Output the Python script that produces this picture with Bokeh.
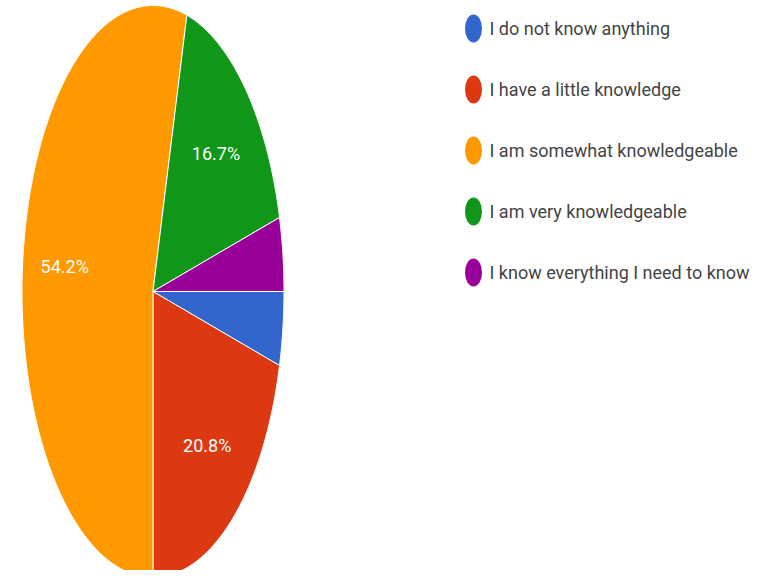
import numpy as np
from bokeh.plotting import figure
from bokeh.models import Range1d, ColumnDataSource
from bokeh.core.properties import value
from bokeh.embed import file_html
from bokeh.resources import INLINE

# ---- data ----
categories = [
    "I do not know anything",
    "I have a little knowledge",
    "I am somewhat knowledgeable",
    "I am very knowledgeable",
    "I know everything I need to know",
]
counts = [1, 5, 13, 4, 1]
colors = ["#3366cc", "#dc3912", "#ff9900", "#109618", "#990099"]

# ---- layout ----
W, H = 751, 570
cx, cy, rx, ry = 152.5, 291.0, 131.0, 286.0
label_r = 0.68
leg_x, leg_y0, leg_dy = 473.0, 28.0, 61.0
FONT = "Roboto"

counts_a = np.array(counts, dtype=float)
fracs = counts_a / counts_a.sum()
ends = np.cumsum(fracs) * 2 * np.pi
starts = ends - fracs * 2 * np.pi

xs, ys = [], []
for s, e, f in zip(starts, ends, fracs):
    th = np.linspace(s, e, max(int(f * 600), 12))
    xs.append([cx] + list(cx + rx * np.cos(th)))
    ys.append([cy] + list(cy + ry * np.sin(th)))

pie_src = ColumnDataSource(dict(xs=xs, ys=ys, color=colors))

mids = (starts + ends) / 2
pcts = fracs * 100
show = pcts >= 5
lab_src = ColumnDataSource(dict(
    x=list(cx + label_r * rx * np.cos(mids[show])),
    y=list(cy + label_r * ry * np.sin(mids[show])),
    text=[f"{v:.1f}%" for v in pcts[show]],
))

idx = np.arange(len(categories))
leg_src = ColumnDataSource(dict(
    x=[leg_x] * len(categories),
    tx=[leg_x + 16] * len(categories),
    y=list(leg_y0 + leg_dy * idx),
    color=colors,
    text=categories,
))

p = figure(width=W, height=H, output_backend="svg", toolbar_location=None,
           x_range=Range1d(0, W), y_range=Range1d(H, 0),
           min_border=0, x_axis_location=None, y_axis_location=None)
p.outline_line_color = None
p.xgrid.visible = False
p.ygrid.visible = False
p.background_fill_color = "white"

p.patches("xs", "ys", source=pie_src, fill_color="color", line_color="white", line_width=1)
p.text("x", "y", text="text", source=lab_src, text_color="white",
       text_font=value(FONT), text_font_size="18px",
       text_align="center", text_baseline="middle")

p.ellipse("x", "y", width=17, height=28, source=leg_src, fill_color="color", line_color=None)
p.text("tx", "y", text="text", source=leg_src, text_color="#444444",
       text_font=value(FONT), text_font_size="18px",
       text_align="left", text_baseline="middle")

open("out.html", "w").write(file_html(p, INLINE))
